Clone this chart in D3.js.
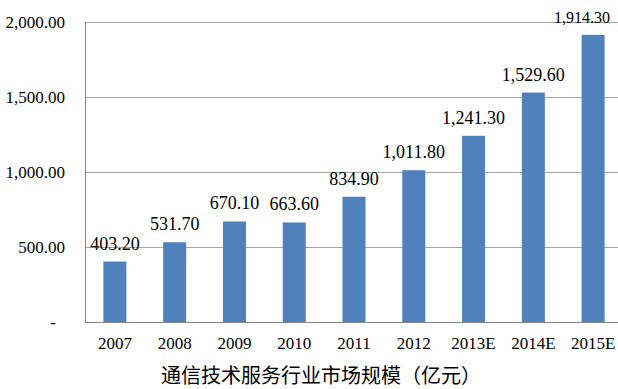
<!DOCTYPE html>
<html>
<head>
<meta charset="utf-8">
<script src="https://cdn.jsdelivr.net/npm/d3@7"></script>
<style>
  body { margin: 0; background: #fff; }
  svg { display: block; }
</style>
</head>
<body>
<div id="chart_div"></div>
<script>
// data
var years = ["2007", "2008", "2009", "2010", "2011", "2012", "2013E", "2014E", "2015E"];
var marketSize = [403.2, 531.7, 670.1, 663.6, 834.9, 1011.8, 1241.3, 1529.6, 1914.3];
var yTicks = [0, 500, 1000, 1500, 2000];
var chartTitle = "通信技术服务行业市场规模（亿元）";

var width = 618, height = 389;
// plot box runs past the right edge, like the original
var margin = {top: 22, left: 85, bottom: 67};
var plotRight = 623;

var svg = d3.select("#chart_div")
  .append("svg")
    .attr("width", width)
    .attr("height", height);

var xScale = d3.scaleBand()
  .domain(years)
  .range([margin.left, plotRight])
  .paddingInner(0.615)
  .paddingOuter(0.3075);

var yScale = d3.scaleLinear()
  .domain([0, 2000])
  .range([height - margin.bottom, margin.top]);

var fmt = d3.format(",.2f");
var serif = "Liberation Serif, Times New Roman, serif";

// gridlines
svg.append("g")
  .selectAll("line")
  .data(yTicks.filter(function(d) { return d > 0; }))
  .enter().append("line")
    .attr("x1", margin.left)
    .attr("x2", plotRight)
    .attr("y1", function(d) { return Math.round(yScale(d)) + 0.5; })
    .attr("y2", function(d) { return Math.round(yScale(d)) + 0.5; })
    .attr("stroke", "#a6a6a6")
    .attr("stroke-width", 1);

// bars
svg.append("g")
  .selectAll("rect")
  .data(marketSize)
  .enter().append("rect")
    .attr("x", function(d, i) { return xScale(years[i]); })
    .attr("width", xScale.bandwidth())
    .attr("y", function(d) { return yScale(d); })
    .attr("height", function(d) { return yScale(0) - yScale(d); })
    .attr("fill", "#4f81bd");

// value labels
var labels = svg.append("g")
  .selectAll("text")
  .data(marketSize)
  .enter().append("text")
    .attr("x", function(d, i) { return xScale(years[i]) + xScale.bandwidth() / 2; })
    .attr("y", function(d) { return yScale(d) - 12; })
    .attr("text-anchor", "middle")
    .attr("font-family", serif)
    .attr("font-size", 18)
    .attr("fill", "#000")
    .text(function(d) { return fmt(d); });

// last label gets squeezed in so it stays inside the picture (like excel does)
labels.filter(function(d, i) { return i === marketSize.length - 1; })
  .attr("font-size", 16)
  .attr("text-anchor", "end")
  .attr("x", width - 8);

// y axis
var yAxis = svg.append("g")
  .attr("transform", "translate(" + margin.left + ",0)")
  .call(d3.axisLeft(yScale)
    .tickValues(yTicks)
    .tickSize(0)
    .tickPadding(20)
    .tickFormat(function(d) { return d === 0 ? "-" : fmt(d); }));
yAxis.attr("font-family", serif).attr("font-size", 17);
yAxis.select(".domain").attr("stroke", "#868686").attr("d", "M0.5," + yScale(0) + "V" + margin.top);
yAxis.selectAll("text").attr("fill", "#000");
yAxis.selectAll(".tick")
  .filter(function(d) { return d === 0; })
  .select("text")
    .attr("x", -29);

// x axis
var xAxis = svg.append("g")
  .attr("transform", "translate(0," + yScale(0) + ")")
  .call(d3.axisBottom(xScale).tickSize(0).tickPadding(15));
xAxis.attr("font-family", serif).attr("font-size", 17);
xAxis.select(".domain").attr("stroke", "#868686").attr("d", "M" + margin.left + ",0.5H" + plotRight);
xAxis.selectAll("text").attr("fill", "#000");

// title
svg.append("text")
  .attr("x", 321)
  .attr("y", 383)
  .attr("text-anchor", "middle")
  .attr("font-family", "Noto Sans CJK SC, sans-serif")
  .attr("font-size", 20)
  .attr("fill", "#000")
  .text(chartTitle);
</script>
</body>
</html>
